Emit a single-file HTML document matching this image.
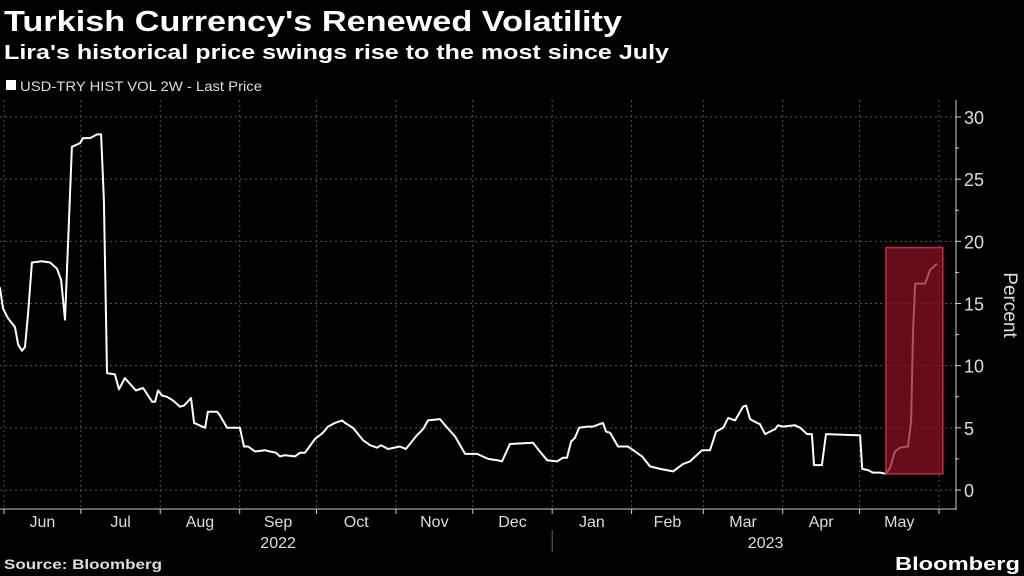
<!DOCTYPE html>
<html><head><meta charset="utf-8"><style>
body{margin:0;background:#000;width:1024px;height:576px;overflow:hidden;font-family:"Liberation Sans",sans-serif;color:#fff}
</style></head><body>
<svg id="c" width="1024" height="576" style="position:absolute;left:0;top:0">
<text x="4" y="31" font-size="29" font-weight="bold" fill="#fff" textLength="618" lengthAdjust="spacingAndGlyphs">Turkish Currency's Renewed Volatility</text>
<text x="4" y="59" font-size="20" font-weight="bold" fill="#fff" textLength="665" lengthAdjust="spacingAndGlyphs">Lira's historical price swings rise to the most since July</text>
<rect x="6" y="80" width="10" height="10" fill="#fff"/>
<text x="20" y="91" font-size="14" fill="#ddd" textLength="242" lengthAdjust="spacingAndGlyphs">USD-TRY HIST VOL 2W - Last Price</text>
<g id="grid"></g>
<g id="axes"></g>
<path id="line" fill="none" stroke="#fff" stroke-width="2" stroke-linejoin="round"/>
<rect id="hl" fill="rgba(140,16,36,0.72)" stroke="#c8283c" stroke-width="1.5"/>
<text x="0" y="0" transform="translate(1004,305) rotate(90)" text-anchor="middle" font-size="19" fill="#ddd">Percent</text>
<text x="4" y="569" font-size="14" font-weight="bold" fill="#ddd" textLength="158" lengthAdjust="spacingAndGlyphs">Source: Bloomberg</text>
<text x="895" y="570" font-size="18" font-weight="bold" fill="#fff" textLength="125" lengthAdjust="spacingAndGlyphs">Bloomberg</text>
</svg>
<script>
const days=[-1.6,-0.4,1.6,4.3,5.5,7.0,8.2,9.4,10.9,14.8,18.0,20.7,22.3,23.8,26.5,29.7,30.8,33.6,36.3,37.9,39.0,40.2,43.3,44.9,47.2,51.5,54.3,57.8,59.0,60.1,61.7,63.6,66.0,68.7,70.3,73.0,74.2,78.5,79.6,83.2,84.3,87.1,92.1,93.7,95.3,98.0,101.9,103.8,106.2,107.7,109.7,113.6,115.6,117.5,121.4,124.5,126.5,129.2,132.0,133.1,136.2,140.2,142.9,145.6,147.2,149.9,154.6,156.9,161.2,163.6,165.5,170.2,172.2,176.1,180.0,184.7,189.0,192.5,194.4,197.5,206.5,209.2,212.0,215.9,218.2,219.8,221.4,222.9,224.5,227.6,229.9,233.8,235.0,236.6,239.7,243.6,249.1,252.2,256.1,261.2,265.1,267.8,272.5,275.6,278.0,280.7,282.7,285.4,288.5,289.7,291.2,294.0,295.1,297.1,299.0,301.0,302.2,304.1,308.8,310.8,313.5,315.4,316.2,319.3,320.9,333.0,334.2,335.0,337.3,339.2,342.0,344.3,345.9,347.8,349.8,352.5,352.9,354.1,354.9,355.7,359.6,361.5,362.7,364.2];
const values=[16.3,14.6,13.8,13.1,11.7,11.2,11.5,14.2,18.3,18.4,18.3,17.8,16.9,13.7,27.6,27.9,28.3,28.3,28.6,28.6,23.3,9.4,9.3,8.1,9.0,8.0,8.2,7.1,7.1,8.0,7.6,7.5,7.2,6.7,6.8,7.4,5.4,5.0,6.3,6.3,6.0,5.0,5.0,3.5,3.5,3.1,3.2,3.1,3.0,2.7,2.8,2.7,3.0,3.0,4.1,4.6,5.1,5.4,5.6,5.4,5.0,4.0,3.6,3.4,3.6,3.3,3.5,3.3,4.4,4.9,5.6,5.7,5.2,4.3,2.9,2.9,2.5,2.4,2.3,3.7,3.8,3.1,2.4,2.3,2.6,2.6,3.9,4.2,5.0,5.1,5.1,5.4,4.7,4.6,3.5,3.5,2.7,1.9,1.7,1.5,2.1,2.3,3.2,3.2,4.7,5.0,5.8,5.6,6.7,6.8,5.7,5.4,5.3,4.5,4.7,4.9,5.2,5.1,5.2,5.0,4.5,4.5,2.0,2.0,4.5,4.4,4.4,1.7,1.6,1.4,1.4,1.3,1.8,3.1,3.4,3.5,3.5,5.5,12.9,16.6,16.6,17.7,17.9,18.2];
const yTicks=[0,5,10,15,20,25,30];
const months=["Jun","Jul","Aug","Sep","Oct","Nov","Dec","Jan","Feb","Mar","Apr","May"];
const monthStarts=[0,30,61,92,122,153,183,214,245,273,304,334,365];
const years=["2022","2023"];
const highlight={startDay:344.3,endDay:366.5,low:1.3,high:19.5};

const X=d=>4+d*(935/365);
const Y=v=>490-v*(373/30);
const NS="http://www.w3.org/2000/svg";
function mk(tag,attrs,parent){const e=document.createElementNS(NS,tag);for(const k in attrs)e.setAttribute(k,attrs[k]);parent.appendChild(e);return e;}
const grid=document.getElementById('grid'),axes=document.getElementById('axes');
yTicks.forEach(v=>{
  const g=mk('line',{x1:0,x2:955,y1:Y(v),y2:Y(v),stroke:'#555','stroke-dasharray':'2,3','stroke-width':1},grid);
  
  
  const t=mk('text',{x:964,y:Y(v)+7,'font-size':18,fill:'#ddd'},axes);t.textContent=v;
  
  
  mk('line',{x1:955,x2:961,y1:Y(v),y2:Y(v),stroke:'#ccc'},axes);
  if(v<30)mk('line',{x1:955,x2:959,y1:Y(v+2.5),y2:Y(v+2.5),stroke:'#ccc'},axes);
});
mk('line',{x1:956,x2:956,y1:100,y2:510,stroke:'#ccc'},axes);
mk('line',{x1:0,x2:956,y1:509,y2:509,stroke:'#ccc'},axes);
monthStarts.forEach((d,i)=>{
  const g=mk('line',{x1:X(d),x2:X(d),y1:100,y2:509,stroke:'#555','stroke-dasharray':'2,3'},grid);
  
  
  mk('line',{x1:X(d),x2:X(d),y1:509,y2:514,stroke:'#ccc'},axes);
  if(i<months.length){
    const t=mk('text',{x:(X(d)+X(monthStarts[i+1]))/2,y:527,'text-anchor':'middle','font-size':16,fill:'#ddd'},axes);
    t.textContent=months[i];
    
    
  }
});
[[0,214],[214,365]].forEach((r,i)=>{
  const t=mk('text',{x:(X(r[0])+X(r[1]))/2+(i?20:0),y:548,'text-anchor':'middle','font-size':16,fill:'#ddd'},axes);
  t.textContent=years[i];
  
  
});
mk('line',{x1:X(214),x2:X(214),y1:530,y2:552,stroke:'#666'},axes);
document.getElementById('line').setAttribute('d',days.map((d,i)=>(i?'L':'M')+X(d).toFixed(1)+','+Y(values[i]).toFixed(1)).join(''));
const hl=document.getElementById('hl');
hl.setAttribute('x',X(highlight.startDay));hl.setAttribute('width',X(highlight.endDay)-X(highlight.startDay));
hl.setAttribute('y',Y(highlight.high));hl.setAttribute('height',Y(highlight.low)-Y(highlight.high));
</script>
</body></html>
